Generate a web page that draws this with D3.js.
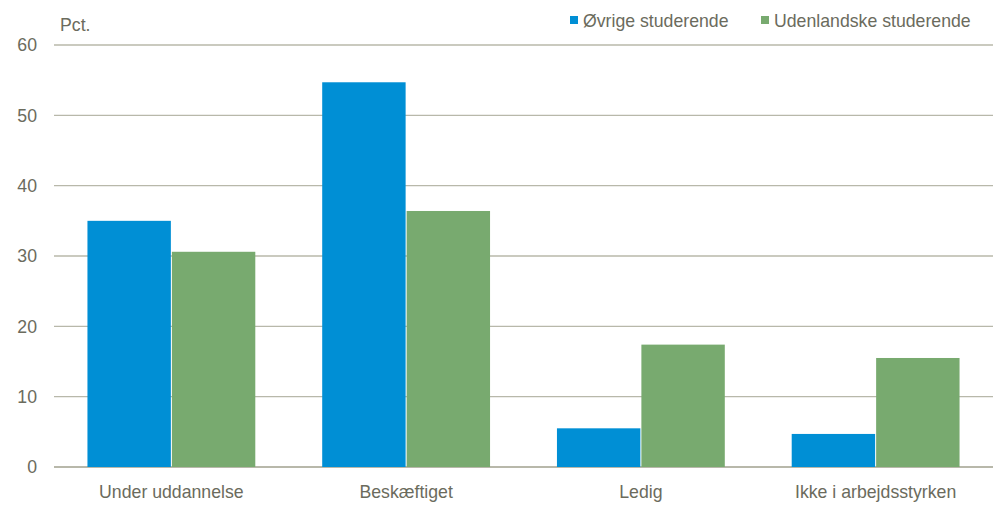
<!DOCTYPE html>
<html><head><meta charset="utf-8">
<script src="https://cdn.jsdelivr.net/npm/d3@7"></script>
<style>body{margin:0;background:#fff}svg{display:block}text{font-family:"Liberation Sans",Arial,sans-serif;fill:#6b6b5d}</style>
</head><body><svg id="c" width="993" height="505"></svg>
<script>
const categories = ["Under uddannelse","Beskæftiget","Ledig","Ikke i arbejdsstyrken"];
const seriesNames = ["Øvrige studerende","Udenlandske studerende"];
const ovrige = [35.0, 54.7, 5.5, 4.7];
const udenlandske = [30.6, 36.4, 17.4, 15.5];
const yTicks = [0,10,20,30,40,50,60];
const colors = ["#008fd5","#78aa6f"];
const FS = "17.7px";

const svg = d3.select("#c");
const m = {l:54, r:0, t:45, b:38};
const W = 993, H = 505;
const x = d3.scaleBand().domain(categories).range([m.l, W-m.r]).paddingInner(0.285).paddingOuter(0.1425);
const xs = d3.scaleBand().domain(seriesNames).range([0, x.bandwidth()]).paddingInner(0.012);
const y = d3.scaleLinear().domain([0,60]).range([H-m.b, m.t]);

svg.append("g").selectAll("line").data(yTicks).join("line")
  .attr("x1", m.l).attr("x2", W-m.r).attr("y1", d=>y(d)).attr("y2", d=>y(d))
  .attr("stroke", "#b8b8aa").attr("stroke-width", d=>d===0?2:1.3);

const yAxis = d3.axisLeft(y).tickValues(yTicks).tickSize(0).tickPadding(17);
const ga = svg.append("g").attr("transform", `translate(${m.l},0)`).call(yAxis);
ga.select(".domain").remove();
ga.selectAll("text").style("font-size",FS).style("fill","#6b6b5d").style("font-family","Liberation Sans, Arial, sans-serif");

const data = [ovrige, udenlandske];
data.forEach((vals, si) => {
  svg.append("g").selectAll("rect").data(vals).join("rect")
    .attr("x", (d,i)=>x(categories[i]) + xs(seriesNames[si]))
    .attr("width", xs.bandwidth())
    .attr("y", d=>y(d))
    .attr("height", d=>y(0)-y(d))
    .attr("fill", colors[si]);
});

const xAxis = d3.axisBottom(x).tickSize(0).tickPadding(18);
const gx = svg.append("g").attr("transform", `translate(0,${y(0)})`).call(xAxis);
gx.select(".domain").remove();
gx.selectAll("text").style("font-size",FS).style("fill","#6b6b5d").style("font-family","Liberation Sans, Arial, sans-serif");

svg.append("text").attr("x", 60).attr("y", 31).style("font-size",FS).text("Pct.");

const legX = [570, 761];
seriesNames.forEach((n,i)=>{
  svg.append("rect").attr("x", legX[i]).attr("y", 16).attr("width", 8).attr("height", 8).attr("fill", colors[i]);
  svg.append("text").attr("x", legX[i]+13).attr("y", 27).style("font-size",FS).text(n);
});
</script></body></html>
